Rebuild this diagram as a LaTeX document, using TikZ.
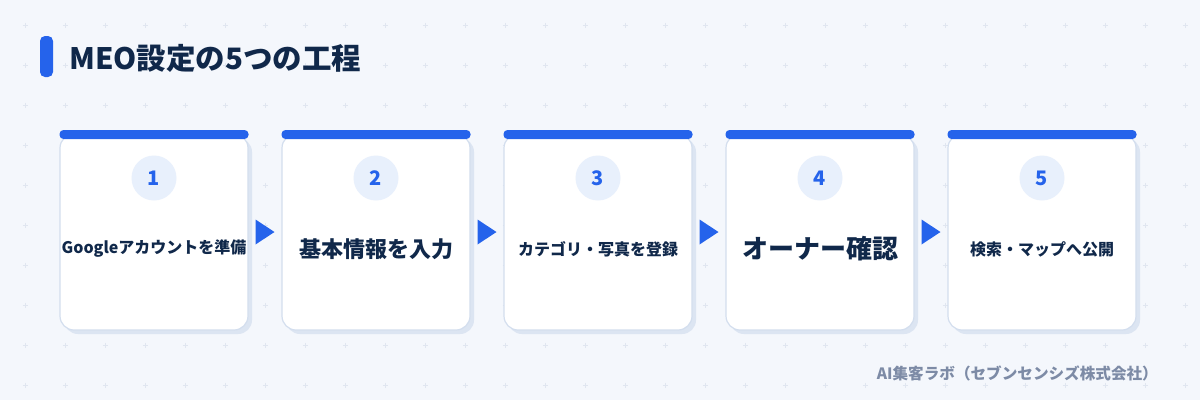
\documentclass[tikz,border=0pt]{standalone}
\usepackage{fontspec}
\setmainfont{Noto Sans CJK JP}
\usetikzlibrary{calc}
\definecolor{bg}{HTML}{F4F7FC}
\definecolor{gridc}{HTML}{E0E6F0}
\definecolor{accent}{HTML}{2563EB}
\definecolor{navy}{HTML}{10284A}
\definecolor{cardline}{HTML}{D3DEEE}
\definecolor{shadowc}{HTML}{DCE5F2}
\definecolor{circfill}{HTML}{E8F0FC}
\definecolor{footc}{HTML}{7D8BA6}
\tikzset{
  card/.style={draw=cardline, line width=1.2pt, fill=white, rounded corners=14pt, minimum width=188pt, minimum height=196pt, inner sep=0pt},
  shadowbox/.style={fill=shadowc, rounded corners=14pt, minimum width=188pt, minimum height=196pt, inner sep=0pt},
  topbar/.style={fill=accent, rounded corners=4pt, minimum width=189pt, minimum height=9pt, inner sep=0pt},
  numcirc/.style={circle, fill=circfill, minimum size=45pt, inner sep=0pt, text=accent, font=\bfseries\fontsize{20}{20}\selectfont},
  lblsmall/.style={text=navy, font=\bfseries\fontsize{16}{18}\selectfont},
  lblbig/.style={text=navy, font=\bfseries\fontsize{22}{24}\selectfont},
  lblhuge/.style={text=navy, font=\bfseries\fontsize{26}{28}\selectfont},
  tri/.style={fill=accent},
}
\begin{document}
\begin{tikzpicture}[x=1pt,y=-1pt]
\fill[bg] (0,0) rectangle (1200,400);
\useasboundingbox (0,0) rectangle (1200,400);
% grid crosses
\foreach \gx in {25,65,...,1185}{
  \foreach \gy in {25,65,...,385}{
    \draw[gridc, line width=0.7pt] (\gx-2.5,\gy) -- (\gx+2.5,\gy) (\gx,\gy-2.5) -- (\gx,\gy+2.5);
  }
}
% title
\fill[accent, rounded corners=5pt] (40,36) rectangle (53,77);
\node[anchor=west, text=navy, font=\bfseries\fontsize{29.5}{31}\selectfont, inner sep=0pt] (title) at (69,58) {MEO設定の5つの工程};
% cards
\foreach \i/\txt/\sty in {1/Googleアカウントを準備/lblsmall, 2/基本情報を入力/lblbig, 3/カテゴリ・写真を登録/lblsmall, 4/オーナー確認/lblhuge, 5/検索・マップへ公開/lblsmall}{
  \pgfmathsetmacro{\cx}{154+222*(\i-1)}
  \node[shadowbox] (s\i) at (\cx+4,236) {};
  \node[card] (c\i) at (\cx,232) {};
  \node[topbar] (b\i) at (\cx,134.5) {};
  \node[numcirc] (n\i) at (\cx,178) {\i};
  \node[\sty] (t\i) at (\cx,249) {\txt};
}
% arrows
\foreach \a/\b in {1/2,2/3,3/4,4/5}{
  \coordinate (m\a) at ($(c\a.east)!0.5!(c\b.west)$);
  \fill[tri] ($(m\a)+(-9.5,-12.5)$) -- ($(m\a)+(9.5,0)$) -- ($(m\a)+(-9.5,12.5)$) -- cycle;
}
% footer
\node[anchor=east, text=footc, font=\bfseries\fontsize{15.6}{18}\selectfont, inner sep=0pt] (foot) at (1158,373) {AI集客ラボ（セブンセンシズ株式会社）};
\end{tikzpicture}
\end{document}
